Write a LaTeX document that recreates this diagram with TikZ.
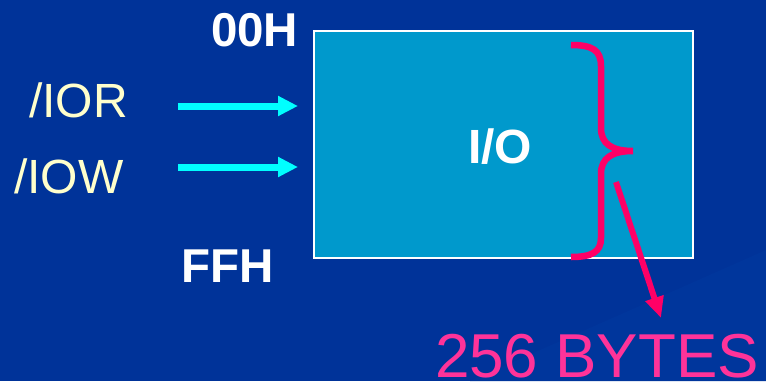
\documentclass[tikz,border=0pt]{standalone}
\usepackage{fontspec}
\setmainfont{Liberation Sans}
\usetikzlibrary{arrows.meta}
\definecolor{bgblue}{RGB}{0,51,153}
\definecolor{bgband}{RGB}{0,54,156}
\definecolor{boxblue}{RGB}{0,153,204}
\definecolor{sigyellow}{RGB}{255,255,204}
\definecolor{arrcyan}{RGB}{0,255,255}
\definecolor{bracepink}{RGB}{255,0,102}
\definecolor{textpink}{RGB}{255,51,153}
\tikzset{
  lbl/.style={anchor=base west,inner sep=0pt,outer sep=0pt},
  addr/.style={lbl,text=white,font=\fontsize{47.5}{50}\selectfont\bfseries},
  sig/.style={lbl,text=sigyellow,font=\fontsize{48}{50}\selectfont},
  sigarrow/.style={draw=arrcyan,line width=7pt,-{Triangle[length=20pt,width=19pt]}},
  pinkline/.style={draw=bracepink,line width=6.5pt},
  pinkarrow/.style={draw=bracepink,line width=6pt,-{Triangle[length=21pt,width=18pt]}}
}
\begin{document}
\begin{tikzpicture}[x=1pt,y=-1pt]
\fill[bgblue] (0,0) rectangle (766,381);
\useasboundingbox (0,0) rectangle (766,381);
% faint diagonal band
\fill[bgband] (470,381) -- (766,250) -- (766,381) -- cycle;
% I/O box
\node[draw=white,line width=1.5pt,fill=boxblue,minimum width=379pt,minimum height=227pt,anchor=north west,inner sep=0pt] (io) at (313,30) {};
\node[lbl,text=white,font=\fontsize{48}{50}\selectfont\bfseries] (iotxt) at (468,163) {I/O};
% address labels
\node[addr] (top) at (211,46) {00H};
\node[addr] (bot) at (181,282) {FFH};
% signals
\node[sig] (ior) at (29,117) {/IOR};
\node[sig] (iow) at (14,193) {/IOW};
\coordinate (iorA) at (178,106);
\coordinate (iorB) at (298,106);
\coordinate (iowA) at (178,167);
\coordinate (iowB) at (298,167);
\draw[sigarrow] (iorA) -- (iorB);
\draw[sigarrow] (iowA) -- (iowB);
% brace
\coordinate (bt) at (571,45);
\coordinate (bm) at (633,151);
\coordinate (bb) at (571,257);
\draw[pinkline] (bt) .. controls (592,45) and (601,50) .. (601,66) -- (601,128)
  .. controls (601,144) and (612,151) .. (bm)
  .. controls (612,151) and (601,158) .. (601,174) -- (601,238)
  .. controls (601,252) and (592,257) .. (bb);
% size label
\coordinate (pa) at (616,182);
\node[lbl,text=textpink,font=\fontsize{62}{66}\selectfont] (size) at (435,377.5) {256 BYTES};
\coordinate (pb) at (661,318);
\draw[pinkarrow] (pa) -- (pb);
\end{tikzpicture}
\end{document}
